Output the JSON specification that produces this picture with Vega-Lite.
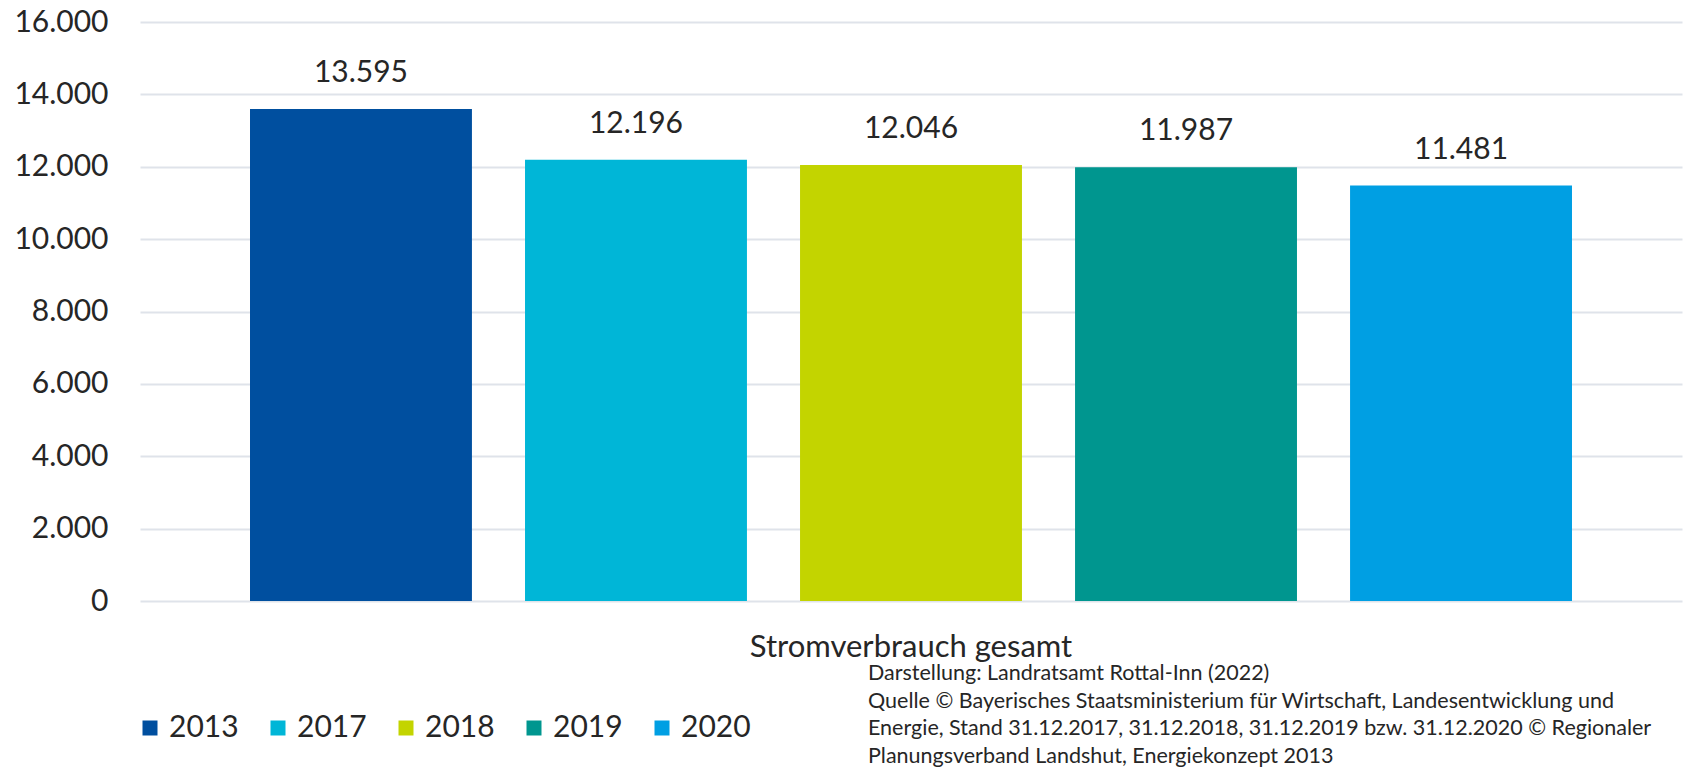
{
  "$schema": "https://vega.github.io/schema/vega-lite/v6.json",
  "autosize": "none",
  "width": 1542,
  "height": 579,
  "padding": {"left": 140, "top": 22, "right": 3, "bottom": 169},
  "background": "white",
  "config": {
    "locale": {"number": {"decimal": ",", "thousands": ".", "grouping": [3], "currency": ["", " €"]}},
    "view": {"stroke": null},
    "font": "Lato"
  },
  "title": {
    "text": [
      "Darstellung: Landratsamt Rottal-Inn (2022)",
      "Quelle © Bayerisches Staatsministerium für Wirtschaft, Landesentwicklung und",
      "Energie, Stand 31.12.2017, 31.12.2018, 31.12.2019 bzw. 31.12.2020 © Regionaler",
      "Planungsverband Landshut, Energiekonzept 2013"
    ],
    "orient": "bottom",
    "anchor": "start",
    "frame": "group",
    "dx": 728,
    "offset": -80,
    "font": "Lato",
    "fontSize": 21.5,
    "fontWeight": "normal",
    "color": "#262626",
    "lineHeight": 27.5
  },
  "data": {
    "values": [
      {"kategorie": "Stromverbrauch gesamt", "jahr": "2013", "wert": 13595},
      {"kategorie": "Stromverbrauch gesamt", "jahr": "2017", "wert": 12196},
      {"kategorie": "Stromverbrauch gesamt", "jahr": "2018", "wert": 12046},
      {"kategorie": "Stromverbrauch gesamt", "jahr": "2019", "wert": 11987},
      {"kategorie": "Stromverbrauch gesamt", "jahr": "2020", "wert": 11481}
    ]
  },
  "encoding": {
    "x": {
      "field": "kategorie",
      "type": "nominal",
      "scale": {"paddingInner": 0, "paddingOuter": 0},
      "axis": {
        "title": null,
        "domain": false,
        "ticks": false,
        "labelAngle": 0,
        "labelLimit": 0,
        "labelFont": "Lato",
        "labelFontSize": 31,
        "labelColor": "#262626",
        "labelPadding": 31
      }
    },
    "xOffset": {
      "field": "jahr",
      "type": "nominal",
      "scale": {"paddingInner": 0.193, "paddingOuter": 0.4}
    },
    "y": {
      "field": "wert",
      "type": "quantitative",
      "scale": {"domain": [0, 16000], "nice": false},
      "axis": {
        "title": null,
        "values": [0, 2000, 4000, 6000, 8000, 10000, 12000, 14000, 16000],
        "format": ",.0f",
        "domain": false,
        "ticks": false,
        "labelFont": "Lato",
        "labelFontSize": 30,
        "labelColor": "#262626",
        "labelPadding": 32,
        "gridColor": "#dfe3ea",
        "gridWidth": 2
      }
    }
  },
  "layer": [
    {
      "mark": {"type": "bar"},
      "encoding": {
        "color": {
          "field": "jahr",
          "type": "nominal",
          "scale": {
            "domain": ["2013", "2017", "2018", "2019", "2020"],
            "range": ["#004f9f", "#00b6d7", "#c3d400", "#00968f", "#009fe3"]
          },
          "legend": {
            "title": null,
            "orient": "none",
            "legendX": -5,
            "legendY": 691,
            "padding": 0,
            "direction": "horizontal",
            "columns": 5,
            "symbolType": "square",
            "symbolSize": 225,
            "symbolStrokeWidth": 0,
            "labelFont": "Lato",
            "labelFontSize": 30,
            "labelColor": "#262626",
            "labelOffset": 4,
            "columnPadding": 24
          }
        }
      }
    },
    {
      "mark": {"type": "text", "baseline": "alphabetic", "dy": -27, "font": "Lato", "fontSize": 30, "color": "#262626"},
      "encoding": {
        "text": {"field": "wert", "type": "quantitative", "format": ",.0f"}
      }
    }
  ]
}
